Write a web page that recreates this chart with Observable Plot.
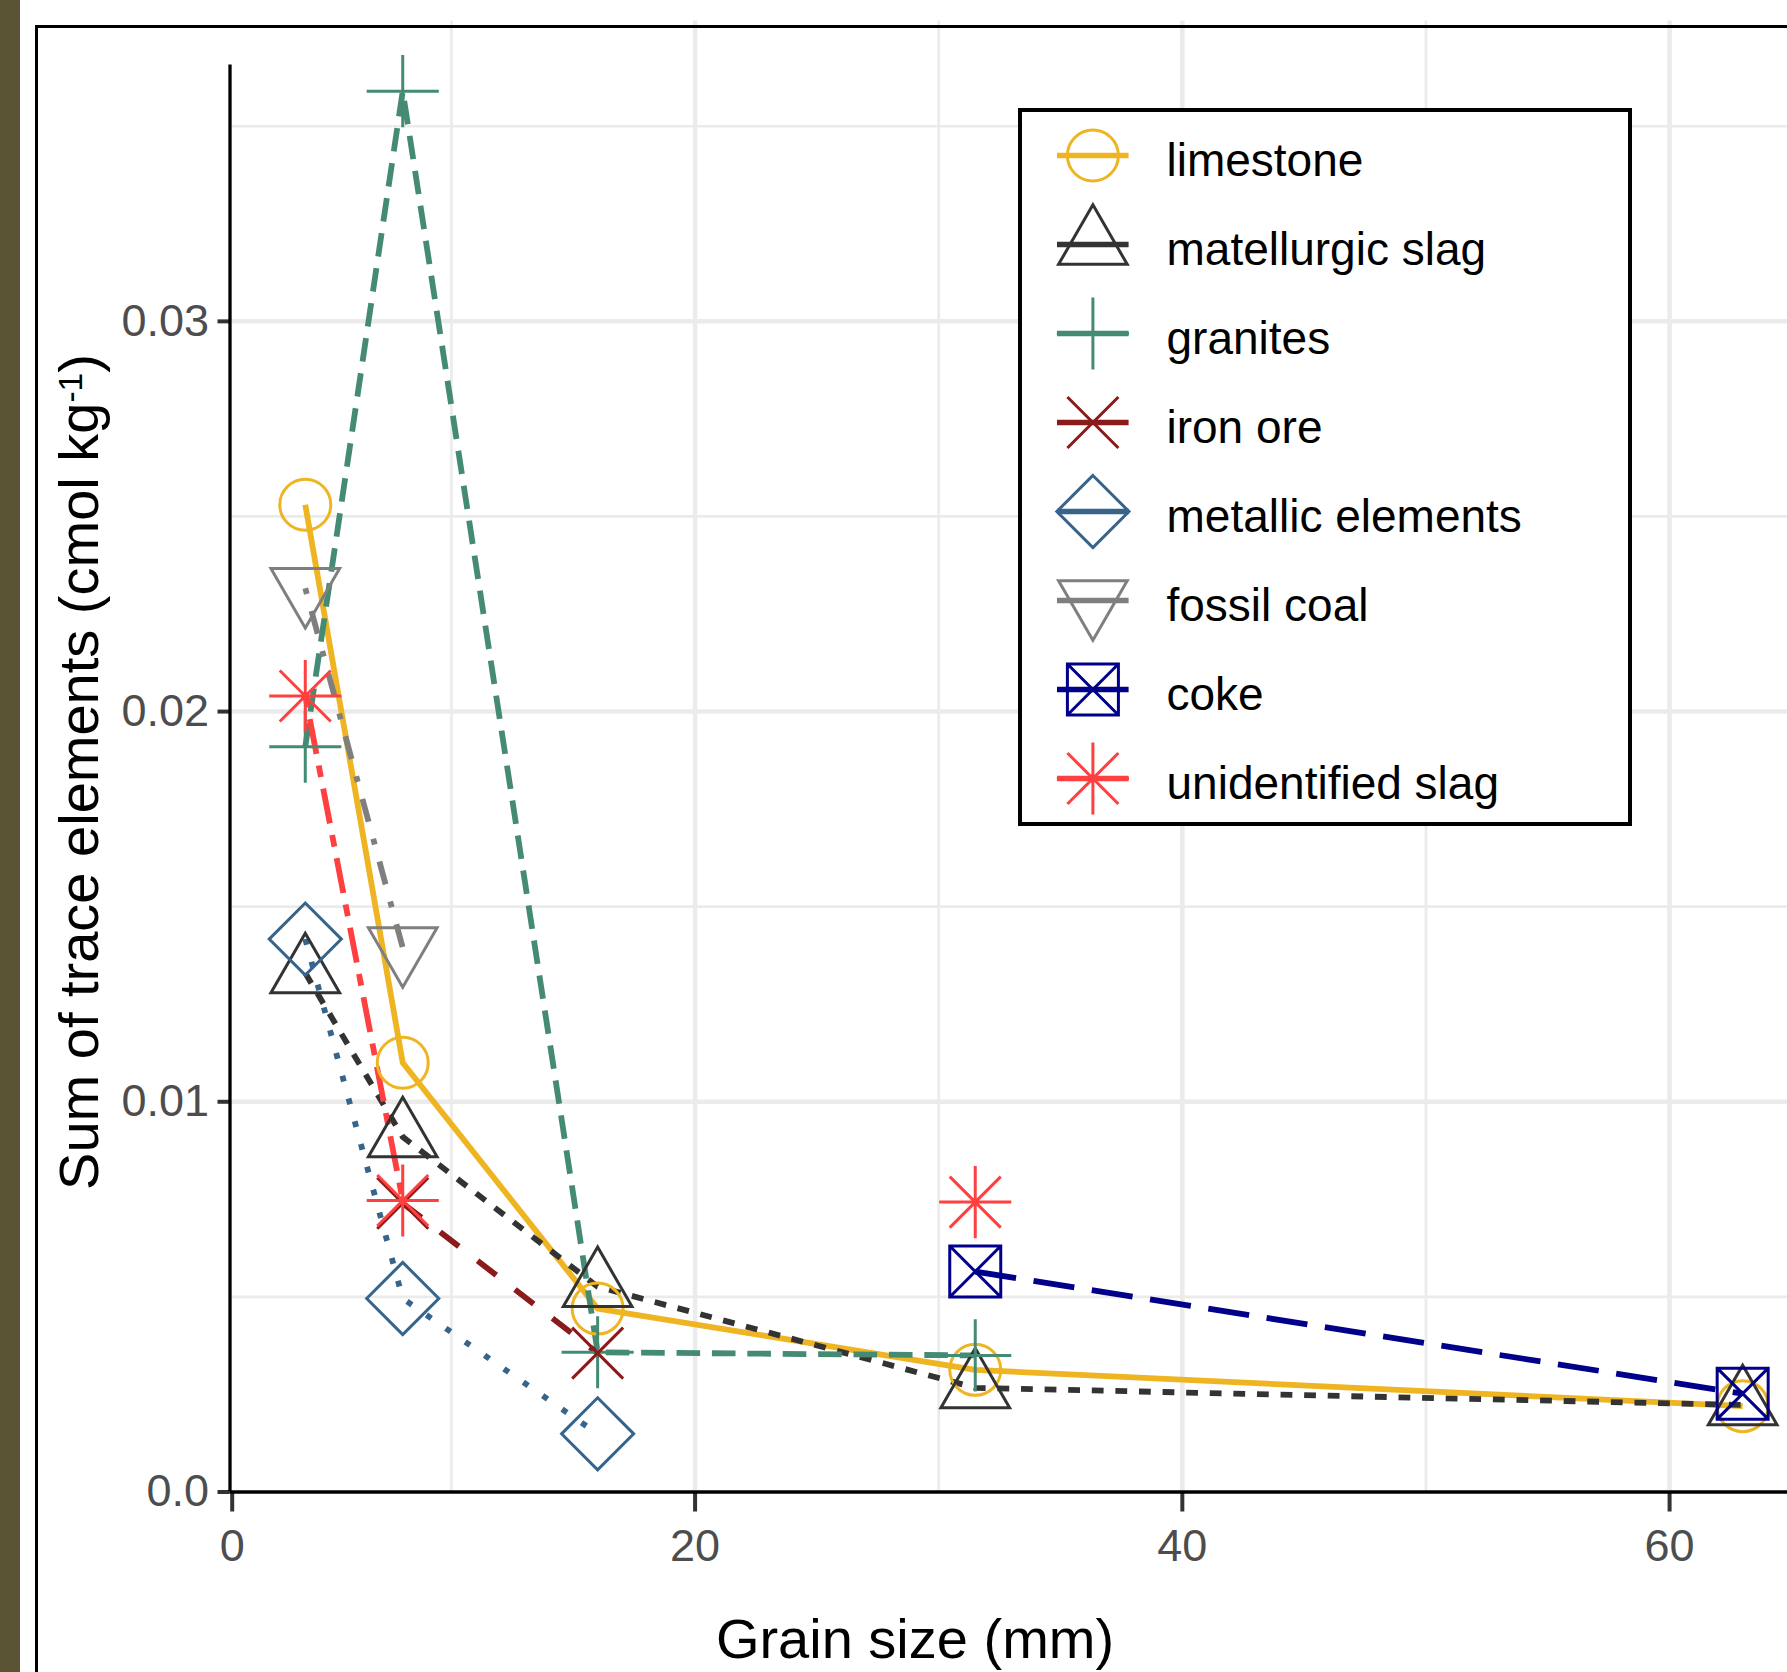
<!DOCTYPE html>
<html>
<head>
<meta charset="utf-8">
<script src="https://cdn.jsdelivr.net/npm/d3@7"></script>
<script src="https://cdn.jsdelivr.net/npm/@observablehq/plot@0.6"></script>
<style>
  html, body { margin: 0; padding: 0; background: #fff; }
  #wrap { position: relative; width: 1787px; height: 1672px; overflow: hidden; background: #fff;
          font-family: "Liberation Sans", Arial, sans-serif; }
  #strip { position: absolute; left: 0; top: 0; width: 20px; height: 1672px; background: #5A5434; }
  #chart { position: absolute; left: 0; top: 0; }
  #frame { position: absolute; left: 34.5px; top: 25px; width: 1800px; height: 1700px;
           border-left: 3px solid #000; border-top: 3px solid #000; box-sizing: border-box; pointer-events: none; }
  #legend { position: absolute; left: 1018px; top: 108px; width: 614px; height: 718px;
            border: 4px solid #000; background: #fff; box-sizing: border-box; }
  #legend svg, #chart svg { display: block; }
</style>
</head>
<body>
<div id="wrap">
  <div id="strip"></div>
  <div id="chart"></div>
  <div id="frame"></div>
  <div id="legend"></div>
</div>
<script>
// ---------------- data ----------------
const grainSize = [4, 8, 16, 31.5, 63];
const seriesNames = ["limestone", "matellurgic slag", "granites", "iron ore",
                     "metallic elements", "fossil coal", "coke", "unidentified slag"];
const limestone        = [0.0253, 0.0110, 0.0047, 0.00313, 0.0022];
const matellurgicSlag  = [0.01330, 0.0091, 0.00526, 0.00267, 0.00223];
const granites         = [0.0191, 0.0359, 0.00358, 0.00350, NaN];
const ironOre          = [NaN, 0.0074, 0.00356, NaN, NaN];
const metallicElements = [0.01417, 0.00496, 0.00149, NaN, NaN];
const fossilCoal       = [0.02316, 0.01395, NaN, NaN, NaN];
const coke             = [NaN, NaN, NaN, 0.00565, 0.00252];
const unidentifiedSlag = [0.0204, 0.00747, NaN, 0.00743, NaN];
const seriesValues = [limestone, matellurgicSlag, granites, ironOre,
                      metallicElements, fossilCoal, coke, unidentifiedSlag];

const xTicks = [1, 20, 40, 60];
const xTickLabels = ["0", "20", "40", "60"];
const yTicks = [0, 0.01, 0.02, 0.03];
const yTickLabels = ["0.0", "0.01", "0.02", "0.03"];
const xGridMajor = [20, 40, 60];
const xGridMinor = [10, 30, 50];
const yGridMajor = [0.01, 0.02, 0.03];
const yGridMinor = [0.005, 0.015, 0.025, 0.035];

// ---------------- styles ----------------
const seriesColors = ["#EEB422", "#333333", "#458B74", "#8B1A1A",
                      "#36648B", "#7F7F7F", "#00008B", "#FF4040"];
const u = 5.9; // dash unit (R lty digits)
const seriesDash = [null, [2*u, 2*u], [4*u, 2*u], [4*u, 4*u],
                    [1*u, 3*u], [1*u, 3*u, 4*u, 3*u], [7*u, 3*u], [2*u, 2*u, 6*u, 2*u]];

const rad = s => Math.sqrt(s / Math.PI);
const shapeCircle = {draw(c, s) { const r = rad(s); c.moveTo(r, 0); c.arc(0, 0, r, 0, 2 * Math.PI); c.closePath(); }};
const shapeTriUp = {draw(c, s) { const r = rad(s); c.moveTo(0, -1.5551*r); c.lineTo(1.3468*r, 0.7776*r); c.lineTo(-1.3468*r, 0.7776*r); c.closePath(); }};
const shapeTriDown = {draw(c, s) { const r = rad(s); c.moveTo(0, 1.5551*r); c.lineTo(1.3468*r, -0.7776*r); c.lineTo(-1.3468*r, -0.7776*r); c.closePath(); }};
const shapePlus = {draw(c, s) { const r = Math.SQRT2 * rad(s); c.moveTo(-r, 0); c.lineTo(r, 0); c.moveTo(0, -r); c.lineTo(0, r); }};
const shapeTimes = {draw(c, s) { const r = rad(s); c.moveTo(-r, -r); c.lineTo(r, r); c.moveTo(-r, r); c.lineTo(r, -r); }};
const shapeDiamond = {draw(c, s) { const r = Math.SQRT2 * rad(s); c.moveTo(0, -r); c.lineTo(r, 0); c.lineTo(0, r); c.lineTo(-r, 0); c.closePath(); }};
const shapeSquareX = {draw(c, s) { const r = rad(s); c.moveTo(-r, -r); c.lineTo(r, -r); c.lineTo(r, r); c.lineTo(-r, r); c.closePath();
                                    c.moveTo(-r, -r); c.lineTo(r, r); c.moveTo(-r, r); c.lineTo(r, -r); }};
const shapeAsterisk = {draw(c, s) { const r = rad(s), p = Math.SQRT2 * r;
                                     c.moveTo(-p, 0); c.lineTo(p, 0); c.moveTo(0, -p); c.lineTo(0, p);
                                     c.moveTo(-r, -r); c.lineTo(r, r); c.moveTo(-r, r); c.lineTo(r, -r); }};
const seriesShapes = [shapeCircle, shapeTriUp, shapePlus, shapeTimes, shapeDiamond, shapeTriDown, shapeSquareX, shapeAsterisk];

const FONT = "'Liberation Sans', Arial, Helvetica, sans-serif";
const symR = 25.5, symW = 3, lineW = 5.8;

const table = seriesNames.map((name, k) =>
  grainSize.map((g, i) => ({series: name, size: g, value: seriesValues[k][i]})));

const xDomain = [0.91, 64.84];
const yDomain = [0, 0.0377];
const yAxisTop = 0.0368;

const gridColor = "#EBEBEB";
const marks = [
  Plot.ruleY(yGridMinor, {stroke: gridColor, strokeWidth: 2.7}),
  Plot.ruleX(xGridMinor, {stroke: gridColor, strokeWidth: 2.7}),
  Plot.ruleY(yGridMajor, {stroke: gridColor, strokeWidth: 4.5}),
  Plot.ruleX(xGridMajor, {stroke: gridColor, strokeWidth: 4.5}),
];
table.forEach((rows, k) => {
  marks.push(Plot.line(rows, {x: "size", y: "value", stroke: seriesColors[k], strokeWidth: lineW,
    strokeDasharray: seriesDash[k] ? seriesDash[k].join(",") : undefined,
    strokeLinecap: "butt", strokeLinejoin: "round"}));
});
table.forEach((rows, k) => {
  marks.push(Plot.dot(rows, {x: "size", y: "value", symbol: seriesShapes[k], r: symR,
    stroke: seriesColors[k], fill: "none", strokeWidth: symW}));
});
marks.push(
  Plot.axisX({ticks: xTicks, tickFormat: d => xTickLabels[xTicks.indexOf(d)], tickSize: 20, tickPadding: 17,
              fontSize: 45, fill: "#4D4D4D", stroke: "#333333", strokeWidth: 4, label: null}),
  Plot.axisY({ticks: yTicks, tickFormat: d => yTickLabels[yTicks.indexOf(d)], tickSize: 12, tickPadding: 9,
              fontSize: 45, fill: "#4D4D4D", stroke: "#333333", strokeWidth: 4, label: null}),
  Plot.ruleY([0], {stroke: "#000", strokeWidth: 3.3}),
  Plot.ruleX([xDomain[0]], {y1: 0, y2: yAxisTop, stroke: "#000", strokeWidth: 3.3, insetBottom: -9})
);

const chart = Plot.plot({
  width: 1787, height: 1672,
  marginLeft: 229.5, marginRight: 0, marginTop: 20.4, marginBottom: 180.5,
  x: {domain: xDomain},
  y: {domain: yDomain},
  style: {fontFamily: FONT, background: "none", overflow: "visible"},
  marks
});
document.getElementById("chart").appendChild(chart);

// axis titles
const svg = d3.select(chart);
svg.append("text")
  .attr("x", 915).attr("y", 1658)
  .attr("text-anchor", "middle").attr("font-size", 56).attr("fill", "#000")
  .attr("font-family", FONT)
  .text("Grain size (mm)");
const yt = svg.append("text")
  .attr("transform", "translate(98,772) rotate(-90)")
  .attr("text-anchor", "middle").attr("font-size", 56).attr("fill", "#000")
  .attr("font-family", FONT);
yt.append("tspan").text("Sum of trace elements (cmol kg");
yt.append("tspan").attr("font-size", 33.6).attr("dy", -16).text("-1");
yt.append("tspan").attr("dy", 16).text(")");

// ---------------- legend ----------------
const legendMarks = [
  Plot.ruleY(seriesNames, {y: d => d, stroke: (d) => seriesColors[seriesNames.indexOf(d)],
    strokeWidth: 5.5, insetLeft: 35, insetRight: 606 - 106.6})
];
seriesNames.forEach((name, k) => {
  legendMarks.push(Plot.dot([name], {y: d => d, frameAnchor: "left", dx: 70.4, symbol: seriesShapes[k], r: symR,
    stroke: seriesColors[k], fill: "none", strokeWidth: symW}));
});
legendMarks.push(Plot.text(seriesNames, {y: d => d, text: d => d, frameAnchor: "left", dx: 144, dy: 6,
  textAnchor: "start", fontSize: 46, fill: "#000"}));

const legend = Plot.plot({
  width: 606, height: 710,
  marginLeft: 0, marginRight: 0, marginTop: 0, marginBottom: 0,
  y: {type: "point", domain: seriesNames, range: [42, 667.8], padding: 0, axis: null},
  color: {type: "identity"},
  style: {fontFamily: FONT, background: "none", overflow: "visible"},
  marks: legendMarks
});
document.getElementById("legend").appendChild(legend);
</script>
</body>
</html>
